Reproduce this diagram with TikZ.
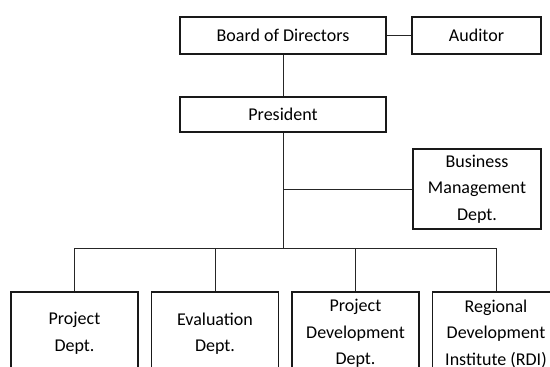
\documentclass[tikz,border=0pt]{standalone}
\usepackage{fontspec}
\setmainfont{Carlito}
\begin{document}
\begin{tikzpicture}[x=1pt,y=-1pt,
  box/.style={draw=black!90, line width=1.6pt, fill=white, align=center, inner sep=0pt,
    font=\fontsize{18}{26.5}\selectfont},
  conn/.style={draw=black!85, line width=0.9pt}]
\useasboundingbox (0,0) rectangle (550,367);
\clip (0,0) rectangle (550,367);
\node[box, minimum width=206, minimum height=37] (board) at (283,35.5) {Board of Directors};
\node[box, minimum width=129, minimum height=37] (aud) at (476.5,35.5) {Auditor};
\node[box, minimum width=206, minimum height=35] (pres) at (283,114.5) {President};
\node[box, minimum width=128, minimum height=80] (bm) at (477,189) {Business\\Management\\Dept.};
\node[box, minimum width=127, minimum height=83] (pd) at (74.5,333.5) {Project\\Dept.};
\node[box, minimum width=127, minimum height=83] (ed) at (215,333.5) {Evaluation\\Dept.};
\node[box, minimum width=127, minimum height=83] (pdd) at (355.5,333.5) {Project\\Development\\Dept.};
\node[box, minimum width=127, minimum height=83] (rdi) at (496,333.5) {Regional\\Development\\Institute (RDI)};
\coordinate (bus) at (283,248);
\coordinate (bmj) at (pres.south |- bm.west);
\draw[conn] (board.east) -- (aud.west);
\draw[conn] (board.south) -- (pres.north);
\draw[conn] (pres.south) -- (bus);
\draw[conn] (bmj) -- (bm.west);
\draw[conn] (pd.north |- bus) -- (rdi.north |- bus);
\draw[conn] (pd.north |- bus) -- (pd.north);
\draw[conn] (ed.north |- bus) -- (ed.north);
\draw[conn] (pdd.north |- bus) -- (pdd.north);
\draw[conn] (rdi.north |- bus) -- (rdi.north);
\end{tikzpicture}
\end{document}
